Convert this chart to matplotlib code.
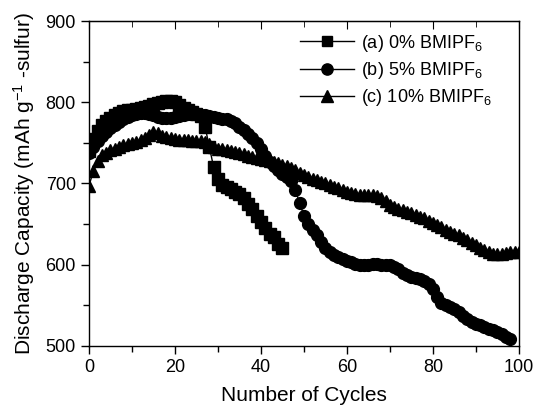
import matplotlib
matplotlib.use('Agg')
import matplotlib.pyplot as plt

plt.rcParams['font.family'] = ['Liberation Sans', 'DejaVu Sans']
plt.rcParams['mathtext.fontset'] = 'custom'
plt.rcParams['mathtext.rm'] = 'Liberation Sans'
plt.rcParams['mathtext.it'] = 'Liberation Sans'

# (a) 0% BMIPF6 - cycles 0..45
cap_a = [740, 755, 765, 772, 777, 781, 784, 787, 789, 790,
         791, 792, 793, 794, 796, 798, 799, 800, 801, 801,
         800, 797, 793, 790, 788, 786, 783, 770, 745, 720,
         705, 698, 695, 693, 690, 687, 682, 675, 668, 660,
         652, 645, 638, 634, 625, 621]
cyc_a = list(range(len(cap_a)))

# (b) 5% BMIPF6 - cycles 0..98
cap_b = [738, 745, 752, 758, 763, 768, 772, 776, 779, 782,
         784, 786, 787, 787, 786, 784, 782, 781, 781, 781,
         782, 783, 784, 785, 785, 785, 784, 784, 783, 782,
         781, 780, 779, 777, 774, 770, 766, 761, 756, 750,
         742, 734, 727, 721, 716, 712, 708, 703, 692, 676,
         660, 650, 643, 636, 628, 621, 616, 612, 609, 607,
         605, 603, 601, 600, 600, 600, 601, 601, 600, 599,
         599, 597, 594, 590, 587, 585, 584, 582, 580, 576,
         570, 560, 553, 550, 548, 545, 541, 537, 533, 529,
         527, 525, 523, 521, 519, 517, 514, 511, 508]
cyc_b = list(range(len(cap_b)))

# (c) 10% BMIPF6 - cycles 0..100
cap_c = [697, 715, 728, 735, 738, 741, 743, 745, 747, 749,
         750, 751, 753, 756, 760, 764, 762, 759, 757, 756,
         755, 754, 753, 753, 752, 752, 752, 751, 748, 745,
         743, 742, 741, 740, 739, 738, 736, 734, 732, 731,
         730, 729, 728, 727, 725, 723, 721, 719, 716, 713,
         710, 708, 706, 704, 702, 700, 698, 696, 694, 692,
         690, 688, 687, 686, 686, 686, 686, 685, 682, 678,
         674, 671, 669, 667, 665, 663, 661, 659, 657, 654,
         651, 649, 646, 643, 640, 638, 636, 633, 630, 627,
         624, 621, 618, 615, 613, 613, 613, 614, 615, 615,
         616]
cyc_c = list(range(len(cap_c)))

labels = ['(a) 0% BMIPF$_6$', '(b) 5% BMIPF$_6$', '(c) 10% BMIPF$_6$']

fig = plt.figure(figsize=(5.36, 4.07), dpi=100)
ax = fig.add_axes([0.166, 0.1506, 0.802, 0.7974])

ax.plot(cyc_a, cap_a, 'k-', marker='s', ms=8, lw=1, label=labels[0])
ax.plot(cyc_b, cap_b, 'k-', marker='o', ms=8.5, lw=1, label=labels[1])
ax.plot(cyc_c, cap_c, 'k-', marker='^', ms=9, lw=1, label=labels[2])

ax.set_xlim(0, 100)
ax.set_ylim(500, 900)
ax.set_xticks([0, 20, 40, 60, 80, 100])
ax.set_xticks(range(10, 100, 20), minor=True)
ax.set_yticks([500, 600, 700, 800, 900])
ax.set_yticks([550, 650, 750, 850], minor=True)

ax.tick_params(which='both', direction='out', top=False, right=False, labelsize=13)
ax.tick_params(which='major', length=6, width=1)
ax.tick_params(which='minor', length=4, width=1)
sec = ax.secondary_xaxis('top')
sec.set_xticks([0, 20, 40, 60, 80, 100])
sec.set_xticks(range(10, 100, 20), minor=True)
sec.tick_params(which='both', direction='in', labeltop=False)
sec.tick_params(which='major', length=6)
sec.tick_params(which='minor', length=4)
sec.set_xticklabels([])

for s in ax.spines.values():
    s.set_linewidth(1)

ax.set_xlabel('Number of Cycles', fontsize=15, labelpad=7)
ax.set_ylabel('Discharge Capacity (mAh g$^{-1}$ -sulfur)', fontsize=15, labelpad=6)

ax.legend(loc='upper left', bbox_to_anchor=(0.49, 0.965), frameon=False,
          fontsize=13, handlelength=3.0, handletextpad=0.4,
          labelspacing=0.35, borderpad=0, borderaxespad=0, markerscale=0.95)

fig.savefig('out.png', dpi=100)
